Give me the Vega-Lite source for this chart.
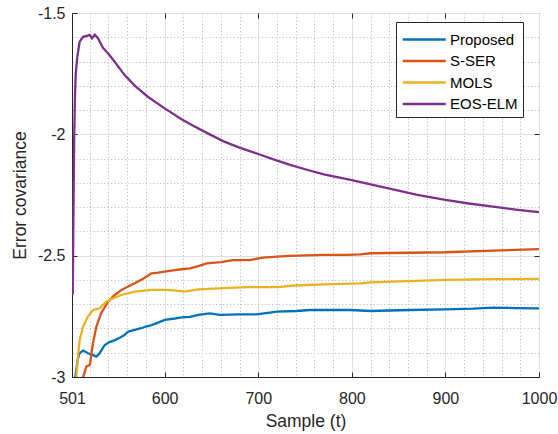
{
  "$schema": "https://vega.github.io/schema/vega-lite/v6.json",
  "width": 467,
  "height": 364,
  "autosize": "none",
  "padding": {"left": 72, "top": 13, "right": 19, "bottom": 57},
  "background": "white",
  "config": {
    "view": {"stroke": "#262626", "strokeWidth": 1},
    "font": "Liberation Sans",
    "axis": {
      "labelFont": "Liberation Sans",
      "titleFont": "Liberation Sans",
      "labelColor": "#262626",
      "titleColor": "#262626",
      "domainColor": "#262626",
      "tickColor": "#262626",
      "titleFontWeight": "normal"
    }
  },
  "data": {
    "values": [
      {"series": "Proposed", "x": 502, "y": -3.25},
      {"series": "Proposed", "x": 504.5, "y": -3.0},
      {"series": "Proposed", "x": 507, "y": -2.93},
      {"series": "Proposed", "x": 509, "y": -2.902},
      {"series": "Proposed", "x": 513, "y": -2.891},
      {"series": "Proposed", "x": 518, "y": -2.902},
      {"series": "Proposed", "x": 523, "y": -2.909},
      {"series": "Proposed", "x": 527, "y": -2.916},
      {"series": "Proposed", "x": 530.5, "y": -2.902},
      {"series": "Proposed", "x": 536, "y": -2.868},
      {"series": "Proposed", "x": 541, "y": -2.856},
      {"series": "Proposed", "x": 547, "y": -2.848},
      {"series": "Proposed", "x": 552, "y": -2.838},
      {"series": "Proposed", "x": 557, "y": -2.827},
      {"series": "Proposed", "x": 561, "y": -2.813},
      {"series": "Proposed", "x": 568, "y": -2.806},
      {"series": "Proposed", "x": 575, "y": -2.799},
      {"series": "Proposed", "x": 580, "y": -2.792},
      {"series": "Proposed", "x": 586, "y": -2.786},
      {"series": "Proposed", "x": 593, "y": -2.776},
      {"series": "Proposed", "x": 600, "y": -2.765},
      {"series": "Proposed", "x": 609, "y": -2.76},
      {"series": "Proposed", "x": 618, "y": -2.754},
      {"series": "Proposed", "x": 627, "y": -2.752},
      {"series": "Proposed", "x": 636, "y": -2.744},
      {"series": "Proposed", "x": 648, "y": -2.738},
      {"series": "Proposed", "x": 659, "y": -2.744},
      {"series": "Proposed", "x": 680, "y": -2.742},
      {"series": "Proposed", "x": 698, "y": -2.742},
      {"series": "Proposed", "x": 720, "y": -2.731},
      {"series": "Proposed", "x": 741, "y": -2.728},
      {"series": "Proposed", "x": 755, "y": -2.724},
      {"series": "Proposed", "x": 780, "y": -2.724},
      {"series": "Proposed", "x": 798, "y": -2.724},
      {"series": "Proposed", "x": 820, "y": -2.728},
      {"series": "Proposed", "x": 840, "y": -2.726},
      {"series": "Proposed", "x": 862, "y": -2.724},
      {"series": "Proposed", "x": 900, "y": -2.721},
      {"series": "Proposed", "x": 930, "y": -2.718},
      {"series": "Proposed", "x": 951, "y": -2.714},
      {"series": "Proposed", "x": 975, "y": -2.716},
      {"series": "Proposed", "x": 1000, "y": -2.717},

      {"series": "S-SER", "x": 511, "y": -3.05},
      {"series": "S-SER", "x": 513, "y": -3.0},
      {"series": "S-SER", "x": 516.3, "y": -2.957},
      {"series": "S-SER", "x": 520, "y": -2.95},
      {"series": "S-SER", "x": 523.4, "y": -2.861},
      {"series": "S-SER", "x": 527, "y": -2.793},
      {"series": "S-SER", "x": 532, "y": -2.738},
      {"series": "S-SER", "x": 539.5, "y": -2.69},
      {"series": "S-SER", "x": 546, "y": -2.664},
      {"series": "S-SER", "x": 554, "y": -2.641},
      {"series": "S-SER", "x": 561, "y": -2.627},
      {"series": "S-SER", "x": 568, "y": -2.614},
      {"series": "S-SER", "x": 577, "y": -2.595},
      {"series": "S-SER", "x": 586, "y": -2.573},
      {"series": "S-SER", "x": 593, "y": -2.57},
      {"series": "S-SER", "x": 600, "y": -2.566},
      {"series": "S-SER", "x": 609, "y": -2.561},
      {"series": "S-SER", "x": 618, "y": -2.556},
      {"series": "S-SER", "x": 627, "y": -2.552},
      {"series": "S-SER", "x": 636, "y": -2.543},
      {"series": "S-SER", "x": 645, "y": -2.532},
      {"series": "S-SER", "x": 660, "y": -2.527},
      {"series": "S-SER", "x": 673, "y": -2.518},
      {"series": "S-SER", "x": 691, "y": -2.518},
      {"series": "S-SER", "x": 705, "y": -2.508},
      {"series": "S-SER", "x": 720, "y": -2.504},
      {"series": "S-SER", "x": 734, "y": -2.501},
      {"series": "S-SER", "x": 770, "y": -2.497},
      {"series": "S-SER", "x": 795, "y": -2.497},
      {"series": "S-SER", "x": 809, "y": -2.495},
      {"series": "S-SER", "x": 820, "y": -2.49},
      {"series": "S-SER", "x": 860, "y": -2.488},
      {"series": "S-SER", "x": 900, "y": -2.486},
      {"series": "S-SER", "x": 951, "y": -2.479},
      {"series": "S-SER", "x": 1000, "y": -2.473},

      {"series": "MOLS", "x": 504, "y": -3.1},
      {"series": "MOLS", "x": 505.6, "y": -3.0},
      {"series": "MOLS", "x": 507.5, "y": -2.91},
      {"series": "MOLS", "x": 509.2, "y": -2.848},
      {"series": "MOLS", "x": 512.8, "y": -2.793},
      {"series": "MOLS", "x": 518, "y": -2.751},
      {"series": "MOLS", "x": 523.4, "y": -2.724},
      {"series": "MOLS", "x": 530.6, "y": -2.717},
      {"series": "MOLS", "x": 537.7, "y": -2.69},
      {"series": "MOLS", "x": 543, "y": -2.679},
      {"series": "MOLS", "x": 553.7, "y": -2.662},
      {"series": "MOLS", "x": 568, "y": -2.648},
      {"series": "MOLS", "x": 586, "y": -2.641},
      {"series": "MOLS", "x": 600, "y": -2.641},
      {"series": "MOLS", "x": 610, "y": -2.643},
      {"series": "MOLS", "x": 621, "y": -2.648},
      {"series": "MOLS", "x": 636, "y": -2.639},
      {"series": "MOLS", "x": 663, "y": -2.634},
      {"series": "MOLS", "x": 688, "y": -2.63},
      {"series": "MOLS", "x": 723, "y": -2.63},
      {"series": "MOLS", "x": 734, "y": -2.624},
      {"series": "MOLS", "x": 770, "y": -2.618},
      {"series": "MOLS", "x": 809, "y": -2.614},
      {"series": "MOLS", "x": 820, "y": -2.61},
      {"series": "MOLS", "x": 860, "y": -2.605},
      {"series": "MOLS", "x": 900, "y": -2.6},
      {"series": "MOLS", "x": 951, "y": -2.597},
      {"series": "MOLS", "x": 1000, "y": -2.596},

      {"series": "EOS-ELM", "x": 501.8, "y": -2.66},
      {"series": "EOS-ELM", "x": 502.6, "y": -2.3},
      {"series": "EOS-ELM", "x": 503.4, "y": -2.0},
      {"series": "EOS-ELM", "x": 504.2, "y": -1.84},
      {"series": "EOS-ELM", "x": 505, "y": -1.75},
      {"series": "EOS-ELM", "x": 506.7, "y": -1.68},
      {"series": "EOS-ELM", "x": 509.2, "y": -1.618},
      {"series": "EOS-ELM", "x": 512.8, "y": -1.598},
      {"series": "EOS-ELM", "x": 518, "y": -1.593},
      {"series": "EOS-ELM", "x": 520, "y": -1.59},
      {"series": "EOS-ELM", "x": 522.4, "y": -1.604},
      {"series": "EOS-ELM", "x": 525.3, "y": -1.59},
      {"series": "EOS-ELM", "x": 528.8, "y": -1.604},
      {"series": "EOS-ELM", "x": 534, "y": -1.643},
      {"series": "EOS-ELM", "x": 541, "y": -1.673},
      {"series": "EOS-ELM", "x": 547, "y": -1.703},
      {"series": "EOS-ELM", "x": 557, "y": -1.755},
      {"series": "EOS-ELM", "x": 568, "y": -1.799},
      {"series": "EOS-ELM", "x": 582, "y": -1.845},
      {"series": "EOS-ELM", "x": 600, "y": -1.893},
      {"series": "EOS-ELM", "x": 618, "y": -1.938},
      {"series": "EOS-ELM", "x": 630, "y": -1.964},
      {"series": "EOS-ELM", "x": 645, "y": -1.994},
      {"series": "EOS-ELM", "x": 663, "y": -2.029},
      {"series": "EOS-ELM", "x": 680, "y": -2.055},
      {"series": "EOS-ELM", "x": 700, "y": -2.081},
      {"series": "EOS-ELM", "x": 717, "y": -2.104},
      {"series": "EOS-ELM", "x": 734, "y": -2.126},
      {"series": "EOS-ELM", "x": 752, "y": -2.146},
      {"series": "EOS-ELM", "x": 770, "y": -2.165},
      {"series": "EOS-ELM", "x": 800, "y": -2.189},
      {"series": "EOS-ELM", "x": 820, "y": -2.206},
      {"series": "EOS-ELM", "x": 844, "y": -2.227},
      {"series": "EOS-ELM", "x": 870, "y": -2.249},
      {"series": "EOS-ELM", "x": 900, "y": -2.27},
      {"series": "EOS-ELM", "x": 925, "y": -2.285},
      {"series": "EOS-ELM", "x": 951, "y": -2.298},
      {"series": "EOS-ELM", "x": 975, "y": -2.31},
      {"series": "EOS-ELM", "x": 1000, "y": -2.321}
    ]
  },
  "layer": [
    {
      "mark": {"type": "line", "clip": true, "strokeWidth": 2.3},
      "encoding": {
        "x": {
          "field": "x", "type": "quantitative",
          "scale": {"domain": [501, 1000], "nice": false, "zero": false},
          "axis": {
            "orient": "bottom",
            "title": "Sample (t)",
            "titleFontSize": 17.5,
            "titlePadding": 6,
            "values": [501, 520, 540, 560, 580, 600, 620, 640, 660, 680, 700, 720, 740, 760, 780, 800, 820, 840, 860, 880, 900, 920, 940, 960, 980, 1000],
            "labelExpr": "(datum.value % 100 == 0 || datum.value == 501) ? '' + datum.value : ''",
            "labelFontSize": 16,
            "labelPadding": 18,
            "labelFlush": false,
            "labelOverlap": false,
            "tickSize": -5,
            "tickOpacity": {"condition": {"test": "datum.value % 100 == 0 || datum.value == 501", "value": 1}, "value": 0},
            "grid": true,
            "gridColor": {"condition": {"test": "datum.value % 100 == 0 || datum.value == 501", "value": "#dfdfdf"}, "value": "#bfbfbf"},
            "gridDash": {"condition": {"test": "datum.value % 100 == 0 || datum.value == 501", "value": []}, "value": [1.2, 2.3]},
            "domainColor": "#262626"
          }
        },
        "y": {
          "field": "y", "type": "quantitative",
          "scale": {"domain": [-3, -1.5], "nice": false, "zero": false},
          "axis": {
            "orient": "left",
            "title": "Error covariance",
            "titleFontSize": 17.5,
            "titlePadding": 8,
            "values": [-3, -2.9, -2.8, -2.7, -2.6, -2.5, -2.4, -2.3, -2.2, -2.1, -2, -1.9, -1.8, -1.7, -1.6, -1.5],
            "labelExpr": "abs(datum.value * 2 - round(datum.value * 2)) < 0.000001 ? '' + datum.value : ''",
            "labelFontSize": 16,
            "labelPadding": 12,
            "labelFlush": false,
            "labelOverlap": false,
            "tickSize": -5,
            "tickOpacity": {"condition": {"test": "abs(datum.value * 2 - round(datum.value * 2)) < 0.000001", "value": 1}, "value": 0},
            "grid": true,
            "gridColor": {"condition": {"test": "abs(datum.value * 2 - round(datum.value * 2)) < 0.000001", "value": "#dfdfdf"}, "value": "#bfbfbf"},
            "gridDash": {"condition": {"test": "abs(datum.value * 2 - round(datum.value * 2)) < 0.000001", "value": []}, "value": [1.2, 2.3]}
          }
        },
        "color": {
          "field": "series", "type": "nominal",
          "scale": {
            "domain": ["Proposed", "S-SER", "MOLS", "EOS-ELM"],
            "range": ["#0072BD", "#D95319", "#EDB120", "#7E2F8E"]
          },
          "legend": {
            "title": null,
            "orient": "none",
            "legendX": 324,
            "legendY": 9,
            "fillColor": "white",
            "strokeColor": "#262626",
            "padding": 5,
            "labelFont": "Liberation Sans",
            "labelFontSize": 15,
            "labelColor": "black",
            "labelOffset": 24,
            "symbolType": "M-1,0H3",
            "symbolSize": 462,
            "symbolStrokeWidth": 2.6,
            "rowPadding": 0.5
          }
        }
      }
    },
    {
      "mark": {"type": "point", "opacity": 0},
      "encoding": {
        "x": {
          "field": "x", "type": "quantitative",
          "axis": {
            "orient": "top", "title": null, "labels": false, "grid": false, "domain": false,
            "values": [600, 700, 800, 900],
            "tickSize": -5
          }
        },
        "y": {
          "field": "y", "type": "quantitative",
          "axis": {
            "orient": "right", "title": null, "labels": false, "grid": false, "domain": false,
            "values": [-2.5, -2],
            "tickSize": -5
          }
        }
      }
    }
  ],
  "resolve": {"axis": {"x": "independent", "y": "independent"}}
}
